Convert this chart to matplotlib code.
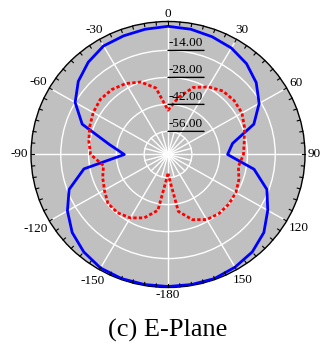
import numpy as np
import matplotlib
matplotlib.use('Agg')
import matplotlib.pyplot as plt

# 각도 (deg) 와 방사 패턴 (dB)
angles = [-180, -170, -160, -150, -140, -130, -120, -110, -100, -90, -80, -70, -60,
          -50, -40, -30, -20, -10, 0, 10, 20, 30, 40, 50, 60, 70, 80, 90,
          100, 110, 120, 130, 140, 150, 160, 170, 180]
co_pol = [0.5, 0.5, 0.5, 0, -2, -5, -9.5, -15, -25, -46, -38, -22, -14,
          -9, -5.5, -3, -2.5, -2, -1.5, -2, -3, -4.2, -6.5, -10, -15, -22, -35, -38,
          -24, -15, -10, -5, -2, -0.5, 0.5, 0.5, 0.5]
cross_pol = [-58, -38.6, -33, -30, -28.5, -28.5, -31, -33, -35, -29, -27.5, -26, -24.5,
             -23.5, -24, -25.5, -28, -33, -45, -38, -31, -27.5, -25, -24.5, -25, -27, -29, -30,
             -32, -30, -28.5, -28, -28, -29, -32, -38, -58]

ring_vals = [-14, -28, -42, -56]
theta_ticks = [0, 30, 60, 90, 120, 150, 180, 210, 240, 270, 300, 330]
theta_labels = ['0', '30', '60', '90', '120', '150', '-180', '-150', '-120', '-90', '-60', '-30']

plt.rcParams['font.family'] = ['Liberation Serif', 'DejaVu Serif']

fig = plt.figure(figsize=(3.24, 3.45), dpi=100)
ax = fig.add_axes([0.0957, 0.1667, 0.8457, 0.7710], projection='polar')
ax.set_aspect('auto')
ax.set_theta_zero_location('N')
ax.set_theta_direction(-1)
ax.set_facecolor('#c0c0c0')
ax.set_ylim(-68, 1)

th = np.deg2rad(angles)
ax.plot(th, co_pol, color='#0000ff', lw=2.0, zorder=5)
ax.plot(th, cross_pol, color='#ff0000', lw=2.0, ls=(0, (1.2, 0.8)), zorder=5)

# 그리드
ax.set_rticks(ring_vals)
ax.set_yticklabels([])
ax.set_thetagrids(theta_ticks, [''] * len(theta_ticks))
ax.tick_params(axis='x', length=0)
ax.grid(True, color='white', lw=1.0)
ax.spines['polar'].set_color('black')
ax.spines['polar'].set_linewidth(1.0)

# 각도 라벨 (수동 배치)
for a, lab in zip(theta_ticks, theta_labels):
    t = np.deg2rad(a)
    w = 6.6 * len(lab.strip('-')) + (4.4 if lab.startswith('-') else 0)
    d = 3 + 0.5 * w * abs(np.sin(t)) + 4.5 * abs(np.cos(t))
    ax.annotate(lab, xy=(t, 1), xytext=(d * np.sin(t), d * np.cos(t)),
                textcoords='offset pixels', ha='center', va='center',
                fontsize=9.5, annotation_clip=False)

# 중심 근처 잔 방사선
for a in range(15, 360, 30):
    ax.plot([np.deg2rad(a)] * 2, [-68, -56], color='white', lw=1.0, zorder=1)

# 바깥 눈금 (5도 간격)
for a in range(0, 360, 5):
    ax.plot([np.deg2rad(a)] * 2, [-0.6, 1], color='black', lw=0.8, clip_on=False, zorder=6)

# 밑줄 친 반경 라벨
for v in ring_vals:
    ax.annotate('', xy=(0, v), xytext=(36, 0), textcoords='offset pixels',
                arrowprops=dict(arrowstyle='-', color='black', lw=1.0,
                                shrinkA=0, shrinkB=0), zorder=7)
    ax.annotate('%.2f' % v, xy=(0, v), xytext=(0.5, 1.5), textcoords='offset pixels',
                ha='left', va='bottom', fontsize=9.5, zorder=7)

fig.text(0.518, 0.042, '(c) E-Plane', ha='center', va='center', fontsize=19)

fig.savefig('out.png', dpi=100)
